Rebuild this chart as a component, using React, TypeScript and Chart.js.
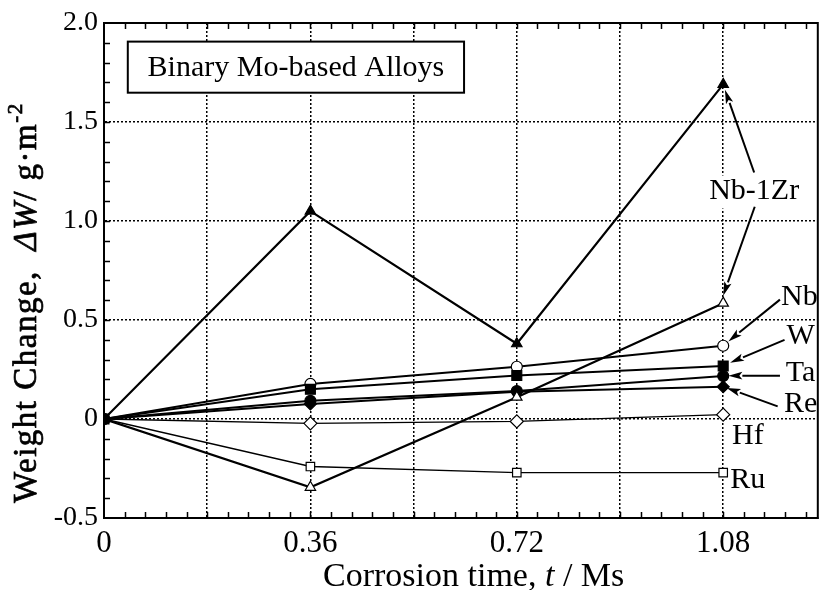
import React, { useEffect, useRef } from 'react';
import { Chart, registerables } from 'chart.js';

Chart.register(...registerables);

// ---- data ----
const times = [0, 0.36, 0.72, 1.08];
const nb1zrFilled = [0, 1.05, 0.38, 1.69];
const nb1zrOpen = [0, -0.345, 0.11, 0.585];
const nbValues = [0, 0.177, 0.264, 0.37];
const wValues = [0, 0.15, 0.22, 0.268];
const taValues = [0, 0.092, 0.141, 0.217];
const reValues = [0, 0.076, 0.138, 0.163];
const hfValues = [0, -0.022, -0.012, 0.022];
const ruValues = [0, -0.24, -0.271, -0.271];

const xTickLabels = ['0', '0.36', '0.72', '1.08'];
const yTickLabels = ['-0.5', '0', '0.5', '1.0', '1.5', '2.0'];

const boxTitle = 'Binary Mo-based Alloys';

// annotation labels (data coordinates) with arrows [fromX, fromY, toX, toY]
const labelTexts = ['Nb-1Zr', 'Nb', 'W', 'Ta', 'Re', 'Hf', 'Ru'];
const labelX = [1.134, 1.213, 1.215, 1.215, 1.215, 1.123, 1.123];
const labelY = [1.149, 0.618, 0.42, 0.234, 0.073, -0.084, -0.311];
const labelArrows: number[][][] = [
  [[1.134, 1.245, 1.083, 1.663], [1.135, 1.072, 1.080, 0.623]],
  [[1.179, 0.603, 1.089, 0.392]],
  [[1.187, 0.40, 1.092, 0.284]],
  [[1.179, 0.219, 1.089, 0.219]],
  [[1.175, 0.064, 1.086, 0.157]],
  [],
  [],
];

const SERIF = "'Liberation Serif', 'Times New Roman', serif";

function drawArrow(ctx: CanvasRenderingContext2D, x1: number, y1: number, x2: number, y2: number) {
  const ang = Math.atan2(y2 - y1, x2 - x1);
  const len = 14;
  const hw = 3.8;
  const bx = x2 - len * Math.cos(ang);
  const by = y2 - len * Math.sin(ang);
  ctx.beginPath();
  ctx.moveTo(x1, y1);
  ctx.lineTo(bx, by);
  ctx.lineWidth = 2;
  ctx.strokeStyle = '#000';
  ctx.stroke();
  ctx.beginPath();
  ctx.moveTo(x2, y2);
  ctx.lineTo(bx + hw * Math.sin(ang), by - hw * Math.cos(ang));
  ctx.lineTo(bx + 3 * Math.cos(ang), by + 3 * Math.sin(ang));
  ctx.lineTo(bx - hw * Math.sin(ang), by + hw * Math.cos(ang));
  ctx.closePath();
  ctx.fillStyle = '#000';
  ctx.fill();
}

const decor = {
  id: 'decor',
  beforeDatasetsDraw(chart: any) {
    const ctx: CanvasRenderingContext2D = chart.ctx;
    const xs = chart.scales.x;
    const ys = chart.scales.y;
    const l = xs.getPixelForValue(0.0415);
    const r = xs.getPixelForValue(0.628);
    const t = ys.getPixelForValue(1.906);
    const b = ys.getPixelForValue(1.648);
    ctx.save();
    ctx.fillStyle = '#fff';
    ctx.fillRect(l, t, r - l, b - t);
    ctx.lineWidth = 2;
    ctx.strokeStyle = '#000';
    ctx.strokeRect(l, t, r - l, b - t);
    ctx.fillStyle = '#000';
    ctx.font = `30px ${SERIF}`;
    ctx.textAlign = 'center';
    ctx.textBaseline = 'middle';
    ctx.fillText(boxTitle, (l + r) / 2, (t + b) / 2 + 1);
    ctx.restore();
  },
  afterDatasetsDraw(chart: any) {
    const ctx: CanvasRenderingContext2D = chart.ctx;
    const xs = chart.scales.x;
    const ys = chart.scales.y;
    ctx.save();
    ctx.font = `30px ${SERIF}`;
    ctx.textAlign = 'center';
    ctx.textBaseline = 'middle';
    labelTexts.forEach((txt, i) => {
      const px = xs.getPixelForValue(labelX[i]);
      const py = ys.getPixelForValue(labelY[i]);
      if (i === 0) {
        const w = ctx.measureText(txt).width;
        ctx.fillStyle = '#fff';
        ctx.fillRect(px - w / 2 - 3, py - 16, w + 6, 33);
      }
      ctx.fillStyle = '#000';
      ctx.fillText(txt, px, py);
      labelArrows[i].forEach((a) => {
        drawArrow(ctx, xs.getPixelForValue(a[0]), ys.getPixelForValue(a[1]), xs.getPixelForValue(a[2]), ys.getPixelForValue(a[3]));
      });
    });
    ctx.restore();
  },
  afterDraw(chart: any) {
    const ctx: CanvasRenderingContext2D = chart.ctx;
    const ca = chart.chartArea;
    const xs = chart.scales.x;
    const ys = chart.scales.y;
    ctx.save();
    ctx.strokeStyle = '#000';
    ctx.lineWidth = 2;
    ctx.strokeRect(ca.left, ca.top, ca.right - ca.left, ca.bottom - ca.top);
    // minor ticks (inward)
    ctx.lineWidth = 1.5;
    ctx.beginPath();
    for (let i = 1; i * 0.036 < xs.max; i++) {
      const px = Math.round(xs.getPixelForValue(i * 0.036)) + 0.5;
      ctx.moveTo(px, ca.bottom);
      ctx.lineTo(px, ca.bottom - 6);
      ctx.moveTo(px, ca.top);
      ctx.lineTo(px, ca.top + 6);
    }
    for (let i = 1; i < 25; i++) {
      const py = Math.round(ys.getPixelForValue(-0.5 + i * 0.1)) + 0.5;
      ctx.moveTo(ca.left, py);
      ctx.lineTo(ca.left + 6, py);
    }
    ctx.stroke();

    // x-axis title
    ctx.fillStyle = '#000';
    ctx.textBaseline = 'alphabetic';
    const xParts: [string, string][] = [
      ['Corrosion time, ', `34px ${SERIF}`],
      ['t', `italic 34px ${SERIF}`],
      [' / Ms', `34px ${SERIF}`],
    ];
    let cx = 323;
    ctx.textAlign = 'left';
    xParts.forEach(([s, f]) => { ctx.font = f; ctx.fillText(s, cx, 586); cx += ctx.measureText(s).width; });

    // y-axis title (rotated)
    const yParts: [string, string, number][] = [
      ['Weight Change,  ', `33px ${SERIF}`, 0],
      ['\u0394W', `italic 33px ${SERIF}`, 0],
      ['/ g\u00B7m', `33px ${SERIF}`, 0],
      ['-2', `21px ${SERIF}`, -14],
    ];
    (ctx as any).letterSpacing = '1.5px';
    ctx.strokeStyle = '#000';
    ctx.lineWidth = 0.7;
    ctx.translate(36, 503);
    ctx.rotate(-Math.PI / 2);
    let yx = 0;
    yParts.forEach(([s, f, dy]) => {
      ctx.font = f;
      ctx.fillText(s, yx, dy);
      ctx.strokeText(s, yx, dy);
      yx += ctx.measureText(s).width;
    });
    (ctx as any).letterSpacing = '0px';
    ctx.restore();
  },
};

function mk(label: string, values: number[], style: string, filled: boolean, radius: number, lw: number, order: number) {
  return {
    label,
    data: times.map((t, i) => ({ x: t, y: values[i] })),
    borderColor: '#000',
    borderWidth: lw,
    pointStyle: style,
    pointRadius: radius,
    pointBackgroundColor: filled ? '#000' : '#fff',
    pointBorderColor: '#000',
    pointBorderWidth: 1.2,
    tension: 0,
    fill: false,
    order,
  };
}

export default function App() {
  const ref = useRef<HTMLCanvasElement | null>(null);
  useEffect(() => {
    if (!ref.current) return;
    const chart = new Chart(ref.current, {
      type: 'line',
      data: {
        datasets: [
          mk('W', wValues, 'rect', true, 7, 2, 0),
          mk('Nb-1Zr (filled)', nb1zrFilled, 'triangle', true, 6, 2.2, 1),
          mk('Nb-1Zr (open)', nb1zrOpen, 'triangle', false, 6, 2.2, 2),
          mk('Nb', nbValues, 'circle', false, 5.5, 2, 3),
          mk('Ta', taValues, 'circle', true, 5.5, 2, 4),
          mk('Re', reValues, 'rectRot', true, 6, 2, 5),
          mk('Hf', hfValues, 'rectRot', false, 6.5, 1.4, 6),
          mk('Ru', ruValues, 'rect', false, 6, 1.4, 7),
        ] as any,
      },
      options: {
        animation: false,
        responsive: false,
        events: [],
        layout: { padding: { left: 0, top: 23, right: 3, bottom: 0 } },
        plugins: { legend: { display: false }, tooltip: { enabled: false }, title: { display: false } },
        scales: {
          x: {
            type: 'linear',
            min: 0,
            max: 1.245,
            afterBuildTicks: (scale: any) => {
              scale.ticks = [0, 1, 2, 3, 4, 5, 6].map((i) => ({ value: i * 0.18 }));
            },
            afterFit: (scale: any) => { scale.height = 72; },
            ticks: {
              autoSkip: false,
              maxRotation: 0,
              padding: 7,
              color: '#000',
              font: { family: SERIF, size: 31 },
              callback: (_v: any, i: number) => (i % 2 === 0 ? xTickLabels[i / 2] : ''),
            },
            grid: { color: '#000', lineWidth: 1.5, drawTicks: false },
            border: { display: true, color: '#000', width: 2, dash: [2, 2] },
          },
          y: {
            type: 'linear',
            min: -0.5,
            max: 2.0,
            afterBuildTicks: (scale: any) => {
              scale.ticks = [0, 1, 2, 3, 4, 5].map((i) => ({ value: -0.5 + i * 0.5 }));
            },
            afterFit: (scale: any) => { scale.width = 104; },
            ticks: {
              padding: 6,
              color: '#000',
              font: { family: SERIF, size: 28 },
              callback: (_v: any, i: number) => yTickLabels[i],
            },
            grid: { color: '#000', lineWidth: 1.5, drawTicks: false },
            border: { display: true, color: '#000', width: 2, dash: [2, 2] },
          },
        },
      },
      plugins: [decor],
    });
    return () => chart.destroy();
  }, []);
  return (
    <div style={{ position: 'absolute', left: 0, top: 0, width: 826, height: 590, background: '#fff' }}>
      <canvas ref={ref} width={826} height={590} style={{ display: 'block' }} />
    </div>
  );
}
